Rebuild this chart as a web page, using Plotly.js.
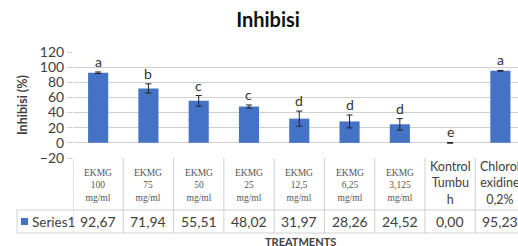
<!DOCTYPE html>
<html><head><meta charset="utf-8">
<script src="https://cdn.plot.ly/plotly-3.0.1.min.js"></script>
<style>html,body{margin:0;padding:0;background:#fff}#chart{width:518px;height:246px}</style>
</head><body><div id="chart"></div>
<script>
const categories = ["EKMG 100 mg/ml","EKMG 75 mg/ml","EKMG 50 mg/ml","EKMG 25 mg/ml","EKMG 12,5 mg/ml","EKMG 6,25 mg/ml","EKMG 3,125 mg/ml","Kontrol Tumbuh","Chlorolexidine 0,2%"];
const labelLines = [["EKMG","100","mg/ml"],["EKMG","75","mg/ml"],["EKMG","50","mg/ml"],["EKMG","25","mg/ml"],["EKMG","12,5","mg/ml"],["EKMG","6,25","mg/ml"],["EKMG","3,125","mg/ml"],["Kontrol","Tumbu","h"],["Chlorol","exidine","0,2%"]];
const serifLabel = [true,true,true,true,true,true,true,false,false];
const values = [92.67,71.94,55.51,48.02,31.97,28.26,24.52,0.00,95.23];
const valueText = ["92,67","71,94","55,51","48,02","31,97","28,26","24,52","0,00","95,23"];
const errors = [1,6,7,2,10,8.5,7.5,0.5,0.5];
const letters = ["a","b","c","c","d","d","d","e","a"];
const yTicks = [-20,0,20,40,60,80,100,120];
const seriesName = "Series1";

const x = categories.map((c,i)=>i);
const L=73, R=518, T=52, B=158, W=R-L, H=B-T;
const px = v => (v-L)/W;          // pixel x -> paper
const py = v => (B-v)/H;          // pixel y -> paper
const SANS = "Lato, 'Open Sans', sans-serif";
const txt = "#404040";

const lineCol = "#d0d0d0";
const shapes = [];
[210,233].forEach(yy=>shapes.push({type:"line",xref:"paper",yref:"paper",x0:px(17),x1:1,y0:py(yy),y1:py(yy),line:{color:lineCol,width:1}}));
for(let i=0;i<=categories.length;i++){
  shapes.push({type:"line",xref:"x",yref:"paper",x0:i-0.5,x1:i-0.5,y0:py(158),y1:py(233),line:{color:lineCol,width:1}});
}
shapes.push({type:"line",xref:"paper",yref:"paper",x0:px(17),x1:px(17),y0:py(210),y1:py(233),line:{color:lineCol,width:1}});
shapes.push({type:"rect",xref:"paper",yref:"paper",x0:px(21),x1:px(28),y0:py(225),y1:py(218),fillcolor:"#4472C4",line:{width:0}});

const annotations = [];
x.forEach(i=>annotations.push({x:i,y:values[i]+errors[i],xref:"x",yref:"y",text:letters[i],showarrow:false,yanchor:"bottom",yshift:0,font:{family:SANS,size:14,color:"#333"}}));
x.forEach(i=>{
  if(serifLabel[i]){
    annotations.push({x:i,y:py(185),xref:"x",yref:"paper",text:labelLines[i].join("<br>"),showarrow:false,yanchor:"middle",font:{family:"Liberation Serif, serif",size:9.5,color:"#555"}});
  } else {
    annotations.push({x:i,y:py(183),xref:"x",yref:"paper",text:labelLines[i].join("<br>"),showarrow:false,yanchor:"middle",font:{family:SANS,size:12.5,color:txt}});
  }
  annotations.push({x:i,y:py(221.5),xref:"x",yref:"paper",text:valueText[i],showarrow:false,yanchor:"middle",font:{family:SANS,size:14,color:txt}});
});
annotations.push({x:px(30),y:py(221.5),xref:"paper",yref:"paper",xanchor:"left",text:seriesName,showarrow:false,yanchor:"middle",font:{family:SANS,size:13.5,color:txt}});
annotations.push({x:px(300),y:py(241),xref:"paper",yref:"paper",text:"<b>TREATMENTS</b>",showarrow:false,yanchor:"middle",font:{family:SANS,size:11,color:txt}});
annotations.push({x:px(22),y:py(105),xref:"paper",yref:"paper",text:"<b>Inhibisi (%)</b>",textangle:-90,showarrow:false,xanchor:"center",yanchor:"middle",font:{family:SANS,size:12.5,color:txt}});

const trace = {type:"bar",x:x,y:values,name:seriesName,marker:{color:"#4472C4"},
  error_y:{type:"data",array:errors,visible:true,color:"#222",thickness:1,width:3}};

Plotly.newPlot("chart",[trace],{
  width:518,height:246,margin:{l:L,r:0,t:T,b:246-B},
  paper_bgcolor:"#fff",plot_bgcolor:"#fff",showlegend:false,bargap:0.6,
  title:{text:"<b>Inhibisi</b>",x:268/518,xanchor:"center",y:1-20/246,yanchor:"middle",font:{family:SANS,size:20,color:"#111"}},
  xaxis:{range:[-0.5,8.35],showticklabels:false,ticks:"",showgrid:false,zeroline:false,showline:false,fixedrange:true},
  yaxis:{range:[-20,120],tickvals:yTicks,ticks:"outside",ticklen:5,tickcolor:lineCol,gridcolor:lineCol,zeroline:false,showline:false,
    tickfont:{family:SANS,size:14,color:txt}},
  shapes:shapes,annotations:annotations
},{staticPlot:true});
</script></body></html>
